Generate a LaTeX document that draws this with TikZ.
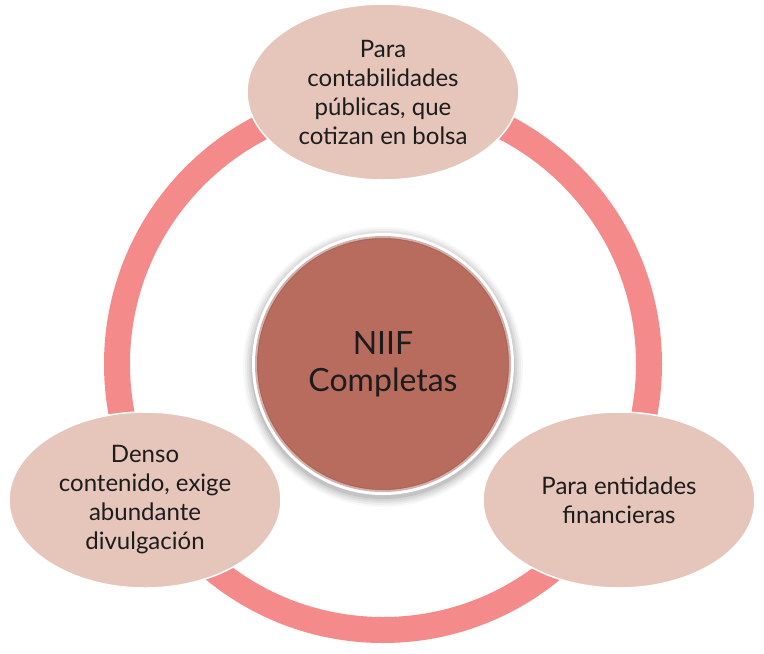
\documentclass[tikz,border=0pt]{standalone}
\usepackage{fontspec}
\setmainfont{Lato}
\usetikzlibrary{shapes.geometric}
\definecolor{ringcol}{HTML}{F48A89}
\definecolor{ovalfill}{HTML}{E6C6BB}
\definecolor{corefill}{HTML}{B86C5D}
\definecolor{coreedge}{HTML}{9C5447}
\definecolor{txt}{HTML}{1C1C1C}
\tikzset{
  oval/.style={ellipse, fill=ovalfill, draw=white, line width=1.5pt,
    minimum width=272pt, minimum height=176pt, inner sep=0pt,
    align=center, text=txt, font=\fontsize{24}{29}\selectfont},
  core/.style={circle, fill=corefill, draw=white, line width=5pt,
    minimum size=257pt, inner sep=0pt, align=center, text=txt,
    font=\fontsize{32}{37}\selectfont},
  ringstyle/.style={draw=ringcol, line width=26pt}
}
\begin{document}
\begin{tikzpicture}[x=1pt,y=-1pt]
\useasboundingbox (0,0) rectangle (764,654);
% ring
\coordinate (c) at (383,364);
\draw[ringstyle] (c) circle (266);
% soft shadow of the centre circle
\foreach \r/\o in {140/0.03,138/0.04,136/0.05,134/0.06,132/0.08}{
  \fill[black,opacity=\o] (383,367) circle (\r);
}
% centre
\node[core] (centre) at (c) {NIIF\\Completas};
\draw[coreedge, line width=3pt, opacity=0.45] (c) circle (126.5);
% ovals
\node[oval] (top) at (383,92) {Para\\contabilidades\\públicas, que\\cotizan en bolsa};
\node[oval] (left) at (145,500) {Denso\\contenido, exige\\abundante\\divulgación};
\node[oval] (right) at (619,500) {Para entidades\\financieras};
\end{tikzpicture}
\end{document}
